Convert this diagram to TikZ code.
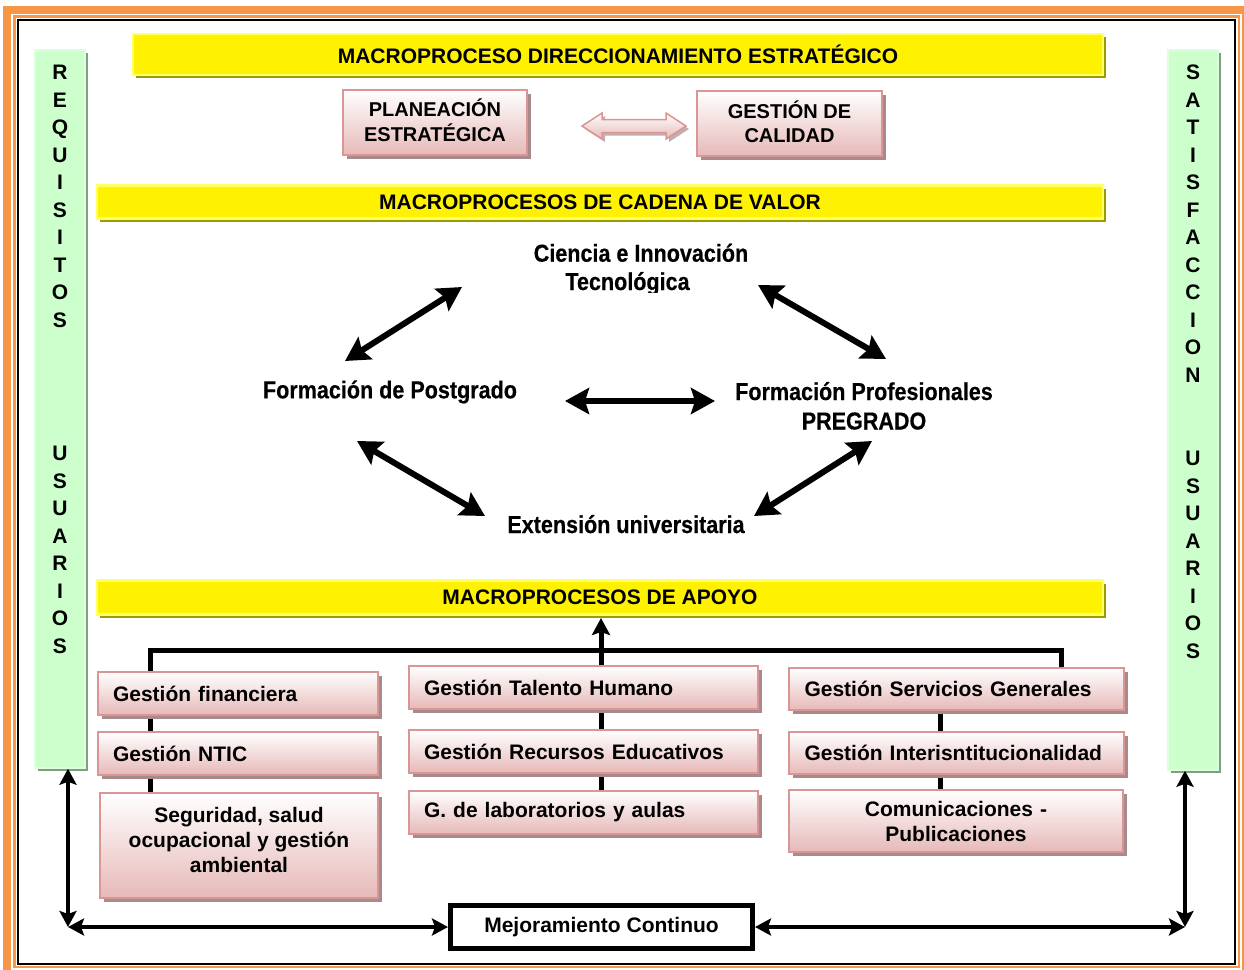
\documentclass[tikz,border=0pt]{standalone}
\usepackage{fontspec}
\setmainfont{Liberation Sans}
\newfontfamily\narrowsans[FakeStretch=0.88, BoldFeatures={FakeBold=0.4}]{Liberation Sans}
\usetikzlibrary{arrows.meta,shadows}

\definecolor{frameorange}{HTML}{F79646}
\definecolor{barfill}{HTML}{CCFFCC}
\definecolor{barlight}{HTML}{DDFFDD}
\definecolor{barshadow}{HTML}{7F9F7F}
\definecolor{bannerlight}{HTML}{FFFF66}
\definecolor{bannershadow}{HTML}{9C9C00}
\definecolor{boxborder}{HTML}{D99694}
\definecolor{boxbottom}{HTML}{E6B9B8}
\definecolor{boxshadow}{HTML}{A88A8C}

\begin{document}
\begin{tikzpicture}[x=1pt,y=-1pt,
  banner/.style={fill=yellow, draw=bannerlight, line width=2.5pt, inner sep=0pt,
    drop shadow={shadow xshift=3pt, shadow yshift=-3pt, fill=bannershadow, opacity=1},
    font=\bfseries\fontsize{21}{25}\selectfont},
  greenbar/.style={fill=barfill, draw=barlight, line width=1.5pt, inner sep=0pt,
    drop shadow={shadow xshift=3pt, shadow yshift=-3pt, fill=barshadow, opacity=1}},
  barletter/.style={font=\bfseries\fontsize{21}{25}\selectfont, inner sep=0pt,
    text height=15pt, text depth=0pt},
  pinkbox/.style={draw=boxborder, line width=2pt, top color=white, bottom color=boxbottom,
    drop shadow={shadow xshift=4pt, shadow yshift=-4pt, fill=boxshadow, opacity=1},
    font=\bfseries\fontsize{21}{25}\selectfont, inner sep=0pt, align=center},
  pinkleft/.style={pinkbox, align=left, inner xsep=15pt},
  cyc/.style={font=\narrowsans\bfseries\fontsize{24.5}{27}\selectfont, inner sep=0pt, align=center},
  bigarrow/.style={line width=6pt,
    {Stealth[length=24pt,width=26pt,inset=4pt]}-{Stealth[length=24pt,width=26pt,inset=4pt]}},
  bus/.style={line width=5pt},
  looparrow/.style={line width=4.5pt,
    {Stealth[length=16pt,width=17pt,inset=3pt]}-{Stealth[length=16pt,width=17pt,inset=3pt]}}
]
\useasboundingbox (0,0) rectangle (1244,969);
\fill[white] (0,0) rectangle (1244,969);

% page frame
\draw[frameorange, line width=7.7pt] (7,10.3) rectangle (1246.3,974.8);
\draw[frameorange, line width=2.4pt] (14.5,16.5) rectangle (1238.8,967.2);
\draw[black, line width=2pt] (18.3,20.2) rectangle (1235,963.5);

% side bars
\node[greenbar, minimum width=50pt, minimum height=718pt] (reqbar) at (60,409) {};
\node[greenbar, minimum width=50pt, minimum height=720pt] (satbar) at (1193,410) {};
\foreach \c [count=\i] in {R,E,Q,U,I,S,I,T,O,S}
  \node[barletter] (reqA\i) at (60,{72+27.5*(\i-1)}) {\c};
\foreach \c [count=\i] in {U,S,U,A,R,I,O,S}
  \node[barletter] (reqB\i) at (60,{453+27.5*(\i-1)}) {\c};
\foreach \c [count=\i] in {S,A,T,I,S,F,A,C,C,I,O,N}
  \node[barletter] (satA\i) at (1193,{72+27.5*(\i-1)}) {\c};
\foreach \c [count=\i] in {U,S,U,A,R,I,O,S}
  \node[barletter] (satB\i) at (1193,{458+27.5*(\i-1)}) {\c};

% banners
\node[banner, minimum width=970pt, minimum height=41pt] (dir) at (618,54.5)
  {MACROPROCESO DIRECCIONAMIENTO ESTRATÉGICO};
\node[banner, minimum width=1006pt, minimum height=33pt] (cadena) at (600,202)
  {MACROPROCESOS DE CADENA DE VALOR};
\node[banner, minimum width=1006pt, minimum height=34pt] (apoyo) at (600,597.5)
  {MACROPROCESOS DE APOYO};

% strategic direction
\node[pinkbox, minimum width=184pt, minimum height=65pt, text depth=5pt,
  font=\bfseries\fontsize{20}{25}\selectfont]
  (plan) at (435,122.5) {PLANEACIÓN\\ESTRATÉGICA};
\node[pinkbox, minimum width=185pt, minimum height=65pt, text depth=4pt,
  font=\bfseries\fontsize{20}{24}\selectfont]
  (calid) at (789.5,123.5) {GESTIÓN DE\\CALIDAD};
\coordinate (dblarrow) at (634,126);
\shade[draw=boxborder, line width=1.5pt, top color=white, bottom color=boxbottom,
  drop shadow={shadow xshift=3pt, shadow yshift=-3pt, fill=boxshadow!70, opacity=1}]
  ([xshift=-52pt]dblarrow) -- ++(20,-13) -- ++(0,6.5) -- ++(64,0) -- ++(0,-6.5)
  -- ++(20,13) -- ++(-20,13) -- ++(0,-6.5) -- ++(-64,0) -- ++(0,6.5) -- cycle;

% value chain
\begin{scope}
  \clip (480,235) rectangle (800,292.5);
  \node[cyc, anchor=base, font=\narrowsans\bfseries\fontsize{24.5}{28.3}\selectfont]
    (cien) at (641,290) {Ciencia e Innovación\\Tecnológica\hspace*{27pt}};
\end{scope}
\node[cyc, anchor=base] (post) at (390,398.3) {Formación de Postgrado};
\node[cyc, anchor=base, font=\narrowsans\bfseries\fontsize{24.5}{29.5}\selectfont]
  (prof) at (864,429.5) {Formación Profesionales\\PREGRADO};
\node[cyc, anchor=base] (ext) at (626,533) {Extensión universitaria};

\coordinate (a1s) at (345,361);  \coordinate (a1e) at (462,287);
\coordinate (a2s) at (758,285);  \coordinate (a2e) at (886,359);
\coordinate (a3s) at (565,401);  \coordinate (a3e) at (715,401);
\coordinate (a4s) at (357,441);  \coordinate (a4e) at (485,516);
\coordinate (a5s) at (754,516);  \coordinate (a5e) at (872,441);
\draw[bigarrow] (a1s) -- (a1e);
\draw[bigarrow] (a2s) -- (a2e);
\draw[bigarrow] (a3s) -- (a3e);
\draw[bigarrow] (a4s) -- (a4e);
\draw[bigarrow] (a5s) -- (a5e);

% support processes: bus lines behind the boxes
\coordinate (busL) at (150,650);
\coordinate (busR) at (1061,650);
\coordinate (apoyoTip) at (601,618);
\draw[bus] (150,795) -- (busL) -- (busR) -- (1061,670);
\draw[bus, -{Stealth[length=17pt,width=18pt,inset=3pt]}] (601,793) -- (apoyoTip);
\draw[bus] (940,705) -- (940,792);

\node[pinkleft, text width=250pt, minimum height=43pt] (fin) at (238,693.5) {Gestión financiera};
\node[pinkleft, text width=250pt, minimum height=43pt] (ntic) at (238,753.5) {Gestión NTIC};
\node[pinkbox, minimum width=278pt, minimum height=105pt, text depth=12pt] (seg) at (239,845.5)
  {Seguridad, salud\\ocupacional y gestión\\ambiental};
\node[pinkleft, text width=319pt, minimum height=43pt] (tal) at (583.5,687.5) {Gestión Talento Humano};
\node[pinkleft, text width=319pt, minimum height=43pt] (rec) at (583.5,751.5) {Gestión Recursos Educativos};
\node[pinkleft, text width=319pt, minimum height=43pt] (lab) at (583.5,812.5) {G. de laboratorios y aulas};
\node[pinkleft, text width=303pt, inner xsep=16pt, minimum height=42pt] (serv) at (956,689) {Gestión Servicios Generales};
\node[pinkleft, text width=303pt, inner xsep=16pt, minimum height=42pt] (inter) at (956,753) {Gestión Interisntitucionalidad};
\node[pinkbox, text width=334pt, minimum height=62pt] (com) at (956,821) {Comunicaciones -\\Publicaciones};

% continuous improvement loop
\node[draw=black, line width=5pt, fill=white, minimum width=302pt, minimum height=43pt,
  inner sep=0pt, font=\bfseries\fontsize{21}{25}\selectfont] (mej) at (601.5,927) {Mejoramiento Continuo};
\coordinate (cornerL) at (68,927);
\coordinate (cornerR) at (1185,927);
\draw[looparrow] (cornerL |- reqbar.south) -- (cornerL);
\draw[looparrow] (cornerR |- satbar.south) -- (cornerR);
\draw[looparrow] (cornerL) -- (mej.west);
\draw[looparrow] (cornerR) -- (mej.east);
\end{tikzpicture}
\end{document}
